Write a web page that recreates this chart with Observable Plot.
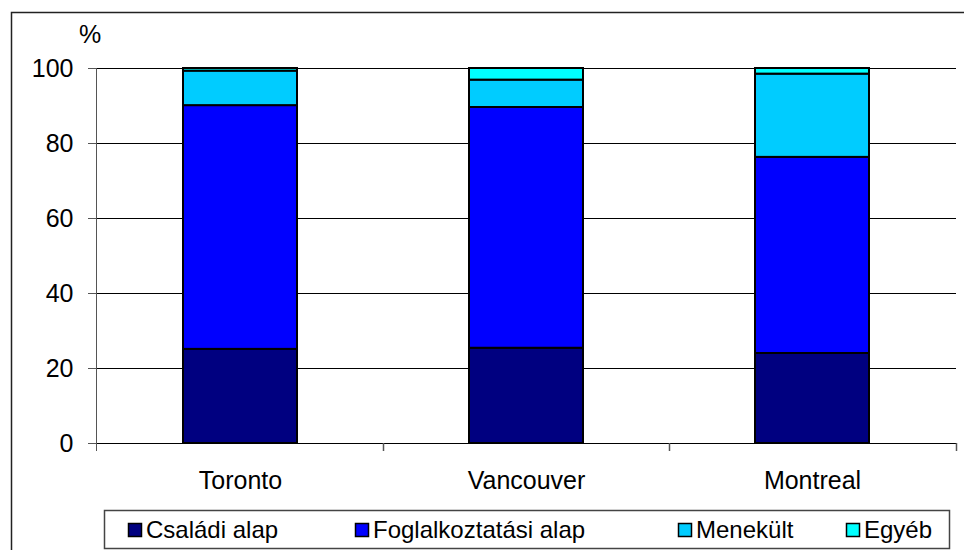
<!DOCTYPE html>
<html><head><meta charset="utf-8">
<script src="https://cdn.jsdelivr.net/npm/d3@7"></script>
<script src="https://cdn.jsdelivr.net/npm/@observablehq/plot@0.6"></script>
<style>body{margin:0;background:#fff} svg{display:block}</style>
</head><body><div id="chart"></div>
<script>
const cities = ["Toronto", "Vancouver", "Montreal"];
const seriesNames = ["Családi alap", "Foglalkoztatási alap", "Menekült", "Egyéb"];
const csaladi = [25.1, 25.4, 24.0];
const foglalkoztatasi = [65.0, 64.2, 52.3];
const menekult = [9.2, 7.3, 22.2];
const egyeb = [0.7, 3.1, 1.5];
const yTicks = [0, 20, 40, 60, 80, 100];
const yUnit = "%";
const colors = ["#000080", "#0000ff", "#00ccff", "#00ffff"];

const seriesValues = [csaladi, foglalkoztatasi, menekult, egyeb];
const rows = [];
cities.forEach((c, i) => seriesNames.forEach((s, j) => rows.push({city: c, series: s, value: seriesValues[j][i]})));

const font = "Arial, 'Liberation Sans', sans-serif";
const plot = Plot.plot({
  width: 964, height: 550,
  marginLeft: 96, marginRight: 8, marginTop: 68, marginBottom: 107,
  style: {fontFamily: font, fontSize: "25px", color: "#000", background: "#fff"},
  x: {domain: cities, paddingInner: 0.6, paddingOuter: 0.3, label: null},
  y: {domain: [0, 100], label: null},
  color: {domain: seriesNames, range: colors},
  marks: [
    Plot.gridY(yTicks.filter(v => v > 0), {stroke: "#000", strokeOpacity: 1}),
    Plot.axisY(yTicks, {tickSize: 8, tickPadding: 15, label: null, stroke: "#555"}),
    Plot.barY(rows, {x: "city", y: "value", fill: "series", z: "series", stroke: "#000", strokeWidth: 2}),
    Plot.ruleY([0], {stroke: "#000"}),
    Plot.axisX({tickSize: 0, tickPadding: 28, label: null})
  ]
});
document.getElementById("chart").append(plot);

const svg = d3.select(plot);
const xs = plot.scale("x"), ys = plot.scale("y");
const [x0, x1] = xs.range;
const [yb, yt] = ys.range;
const step = (x1 - x0) / cities.length;
const g = svg.append("g");
// y axis line
g.append("line").attr("x1", x0 + 0.5).attr("x2", x0 + 0.5).attr("y1", yt).attr("y2", yb + 8).attr("stroke", "#555");
// x category boundary ticks
for (let i = 1; i <= cities.length; i++) {
  const x = Math.round(x0 + i * step) + 0.5;
  g.append("line").attr("x1", x).attr("x2", x).attr("y1", yb).attr("y2", yb + 8).attr("stroke", "#555").attr("stroke-width", 1.5);
}
// unit label
g.append("text").attr("x", 90).attr("y", 43).attr("text-anchor", "middle")
  .attr("font-family", font).attr("font-size", 25).text(yUnit);
// outer border
g.append("rect").attr("x", 11.5).attr("y", 12.5).attr("width", 980).attr("height", 560)
  .attr("fill", "none").attr("stroke", "#222").attr("stroke-width", 1.5);
// legend
const lg = svg.append("g").attr("text-anchor", "start");
lg.append("rect").attr("x", 104.5).attr("y", 510.5).attr("width", 845).attr("height", 38)
  .attr("fill", "#fff").attr("stroke", "#444").attr("stroke-width", 1.5);
const legendX = [128, 355, 678, 846];
seriesNames.forEach((s, i) => {
  lg.append("rect").attr("x", legendX[i] + 0.5).attr("y", 523.5).attr("width", 13).attr("height", 13)
    .attr("fill", colors[i]).attr("stroke", "#000").attr("stroke-width", 1.5);
  lg.append("text").attr("x", legendX[i] + 18).attr("y", 538).attr("text-anchor", "start")
    .attr("font-family", font).attr("font-size", 24).text(s);
});
</script></body></html>
